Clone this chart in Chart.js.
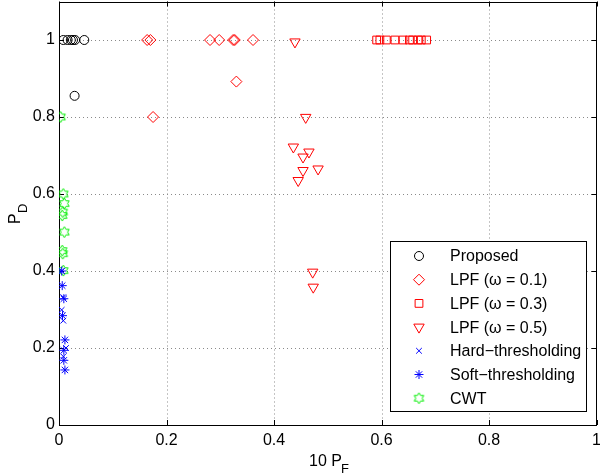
<!DOCTYPE html>
<html>
<head>
<meta charset="utf-8">
<script src="https://cdn.jsdelivr.net/npm/chart.js@4.4.0/dist/chart.umd.min.js"></script>
<style>
  html, body { margin: 0; padding: 0; background: #fff; }
  canvas { display: block; }
</style>
</head>
<body>
<canvas id="chart" width="600" height="475"></canvas>
<script>
// axis ticks
const xTicks = [0, 0.2, 0.4, 0.6, 0.8, 1];
const yTicks = [0, 0.2, 0.4, 0.6, 0.8, 1];

// values (x = 10 P_F, y = P_D)
const proposedX = [0.008, 0.016, 0.022, 0.026, 0.030, 0.047, 0.029];
const proposedY = [1, 1, 1, 1, 1, 1, 0.855];

const lpf01X = [0.164, 0.170, 0.281, 0.298, 0.324, 0.327, 0.361, 0.330, 0.175];
const lpf01Y = [1, 1, 1, 1, 1, 1, 1, 0.892, 0.800];

const lpf03X = [0.591, 0.597, 0.609, 0.625, 0.640, 0.652, 0.658, 0.668, 0.674, 0.684];
const lpf03Y = [1, 1, 1, 1, 1, 1, 1, 1, 1, 1];

const lpf05X = [0.439, 0.459, 0.436, 0.454, 0.465, 0.454, 0.482, 0.445, 0.472, 0.473];
const lpf05Y = [0.995, 0.799, 0.722, 0.696, 0.709, 0.661, 0.665, 0.635, 0.397, 0.358];

const hardX = [0.005, 0.008, 0.005, 0.008, 0.013, 0.008];
const hardY = [0.400, 0.332, 0.299, 0.271, 0.200, 0.178];

const softX = [0.005, 0.006, 0.009, 0.0065, 0.011, 0.009, 0.009, 0.011];
const softY = [0.400, 0.362, 0.328, 0.284, 0.221, 0.194, 0.168, 0.143];

const cwtX = [0.003, 0.008, 0.010, 0.007, 0.006, 0.010, 0.006, 0.007, 0.008];
const cwtY = [0.800, 0.600, 0.575, 0.553, 0.544, 0.501, 0.453, 0.445, 0.401];

const FONT = '"Liberation Sans", Arial, Helvetica, sans-serif';

const toPoints = (xs, ys) => xs.map((x, i) => ({ x: x, y: ys[i] }));

// six-pointed star marker (no built-in one in Chart.js)
function hexagram(color) {
  const c = document.createElement('canvas');
  c.width = 13;
  c.height = 13;
  const g = c.getContext('2d');
  g.strokeStyle = color;
  g.lineWidth = 1;
  g.beginPath();
  for (let i = 0; i < 12; i++) {
    const r = i % 2 === 0 ? 5.5 : 3.2;
    const a = -Math.PI / 2 + i * Math.PI / 6;
    const px = 6.5 + r * Math.cos(a);
    const py = 6.5 + r * Math.sin(a);
    if (i === 0) g.moveTo(px, py); else g.lineTo(px, py);
  }
  g.closePath();
  g.stroke();
  return c;
}

const datasets = [
  { label: 'Proposed', data: toPoints(proposedX, proposedY), pointStyle: 'circle', pointRadius: 4.5, borderColor: '#000000' },
  { label: 'LPF (\u03c9 = 0.1)', data: toPoints(lpf01X, lpf01Y), pointStyle: 'rectRot', pointRadius: 5.5, borderColor: '#ff0000' },
  { label: 'LPF (\u03c9 = 0.3)', data: toPoints(lpf03X, lpf03Y), pointStyle: 'rect', pointRadius: 5.5, borderColor: '#ff0000' },
  { label: 'LPF (\u03c9 = 0.5)', data: toPoints(lpf05X, lpf05Y), pointStyle: 'triangle', pointRotation: 180, pointRadius: 6, borderColor: '#ff0000' },
  { label: 'Hard\u2212thresholding', data: toPoints(hardX, hardY), pointStyle: 'crossRot', pointRadius: 4, borderColor: '#0000ff' },
  { label: 'Soft\u2212thresholding', data: toPoints(softX, softY), pointStyle: 'star', pointRadius: 4.5, borderColor: '#0000ff' },
  { label: 'CWT', data: toPoints(cwtX, cwtY), pointStyle: hexagram('#00ee00'), pointRadius: 6, borderColor: '#00ee00' }
].map(d => Object.assign(d, { backgroundColor: 'rgba(0,0,0,0)', borderWidth: 1, pointHoverRadius: d.pointRadius }));

// dotted grid, box and inward ticks like the original
const framePlugin = {
  id: 'frame',
  beforeDatasetsDraw(chart) {
    const { ctx, chartArea: a, scales: { x, y } } = chart;
    ctx.save();
    ctx.lineWidth = 1;
    ctx.strokeStyle = '#8a8a8a';
    ctx.setLineDash([1, 3]);
    ctx.beginPath();
    xTicks.forEach(v => {
      if (v === 0 || v === 1) return;
      const px = Math.round(x.getPixelForValue(v)) + 0.5;
      ctx.moveTo(px, a.top);
      ctx.lineTo(px, a.bottom);
    });
    yTicks.forEach(v => {
      if (v === 0) return;
      const py = Math.round(y.getPixelForValue(v)) + 0.5;
      ctx.moveTo(a.left, py);
      ctx.lineTo(a.right, py);
    });
    ctx.stroke();
    ctx.setLineDash([]);
    ctx.strokeStyle = '#000';
    ctx.beginPath();
    const t = 5;
    xTicks.forEach(v => {
      const px = Math.round(x.getPixelForValue(v)) + 0.5;
      ctx.moveTo(px, a.bottom); ctx.lineTo(px, a.bottom - t);
      ctx.moveTo(px, a.top); ctx.lineTo(px, a.top + t);
    });
    yTicks.forEach(v => {
      const py = Math.round(y.getPixelForValue(v)) + 0.5;
      ctx.moveTo(a.left, py); ctx.lineTo(a.left + t, py);
      ctx.moveTo(a.right, py); ctx.lineTo(a.right - t, py);
    });
    ctx.stroke();
    ctx.strokeRect(Math.round(a.left) + 0.5, Math.round(a.top) + 0.5,
      Math.round(a.right) - Math.round(a.left) - 1, Math.round(a.bottom) - Math.round(a.top));
    ctx.restore();
  },
  afterDraw(chart) {
    const { ctx } = chart;
    ctx.save();
    // legend box
    const bx = 390.5, by = 241.5, bw = 196, bh = 170;
    ctx.fillStyle = '#fff';
    ctx.fillRect(bx, by, bw, bh);
    ctx.strokeStyle = '#000';
    ctx.lineWidth = 1;
    ctx.strokeRect(bx, by, bw, bh);
    ctx.font = '16px ' + FONT;
    ctx.textBaseline = 'middle';
    ctx.textAlign = 'left';
    chart.data.datasets.forEach((d, i) => {
      const cy = 256 + i * 23.7;
      ctx.strokeStyle = d.borderColor;
      ctx.fillStyle = 'rgba(0,0,0,0)';
      ctx.lineWidth = 1;
      Chart.helpers.drawPoint(ctx, {
        pointStyle: d.pointStyle,
        radius: d.pointRadius,
        rotation: d.pointRotation || 0,
        borderWidth: 1
      }, 419, cy);
      ctx.fillStyle = '#000';
      ctx.fillText(d.label, 450, cy + 1);
    });
    // axis titles with subscripts
    ctx.fillStyle = '#000';
    ctx.font = '16px ' + FONT;
    ctx.textBaseline = 'alphabetic';
    ctx.fillText('10 P', 309, 466);
    ctx.font = '13px ' + FONT;
    ctx.fillText('F', 341, 473);
    ctx.translate(20, 224);
    ctx.rotate(-Math.PI / 2);
    ctx.font = '16px ' + FONT;
    ctx.fillText('P', 0, 0);
    ctx.font = '13px ' + FONT;
    ctx.fillText('D', 11, 7);
    ctx.restore();
  }
};

new Chart(document.getElementById('chart').getContext('2d'), {
  type: 'scatter',
  data: { datasets: datasets },
  options: {
    responsive: false,
    animation: false,
    layout: { autoPadding: false, padding: { top: 1.5, right: 3.5, left: 0, bottom: 0 } },
    plugins: { legend: { display: false }, tooltip: { enabled: false } },
    scales: {
      x: {
        type: 'linear',
        min: 0,
        max: 1,
        afterBuildTicks: s => { s.ticks = xTicks.map(v => ({ value: v })); },
        afterFit: s => { s.height = 50; s.paddingLeft = 0; s.paddingRight = 0; },
        ticks: { color: '#000', font: { family: FONT, size: 16 }, padding: 6, maxRotation: 0,
          callback: v => String(+v.toFixed(1)) },
        grid: { display: false, drawTicks: false },
        border: { display: false }
      },
      y: {
        type: 'linear',
        min: 0,
        max: 1.1,
        afterBuildTicks: s => { s.ticks = yTicks.map(v => ({ value: v })); },
        afterFit: s => { s.width = 59; s.paddingTop = 0; s.paddingBottom = 0; },
        ticks: { color: '#000', font: { family: FONT, size: 16 }, padding: 4,
          callback: v => String(+v.toFixed(1)) },
        grid: { display: false, drawTicks: false },
        border: { display: false }
      }
    }
  },
  plugins: [framePlugin]
});
</script>
</body>
</html>
